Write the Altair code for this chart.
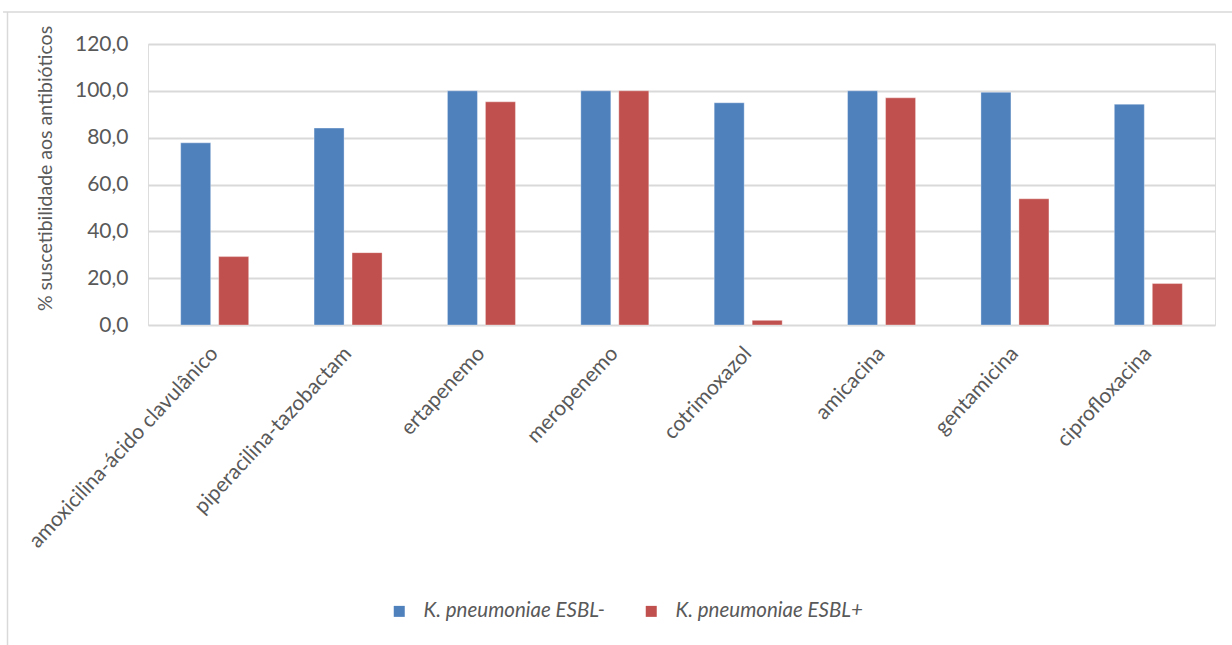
import altair as alt
import pandas as pd

antibiotics = [
    "amoxicilina-ácido clavulânico",
    "piperacilina-tazobactam",
    "ertapenemo",
    "meropenemo",
    "cotrimoxazol",
    "amicacina",
    "gentamicina",
    "ciprofloxacina",
]
series = ["K. pneumoniae ESBL-", "K. pneumoniae ESBL+"]
esbl_neg = [77.8, 84.1, 100.0, 100.0, 94.9, 100.0, 99.4, 94.3]
esbl_pos = [29.2, 30.9, 95.3, 100.0, 2.0, 97.0, 53.9, 17.7]
colors = ["#4F81BD", "#C0504D"]

rows = []
for i, name in enumerate(antibiotics):
    rows.append({"antibiotico": name, "grupo": series[0], "valor": esbl_neg[i]})
    rows.append({"antibiotico": name, "grupo": series[1], "valor": esbl_pos[i]})
df = pd.DataFrame(rows)

FONT = "Lato"
GREY = "#595959"
GRID = "#d9d9d9"

bars = alt.Chart(df).mark_bar(stroke="#ffffff", strokeOpacity=0.35, strokeWidth=1).encode(
    x=alt.X(
        "antibiotico:N",
        sort=antibiotics,
        scale=alt.Scale(paddingInner=0, paddingOuter=0),
        axis=alt.Axis(
            title=None,
            labelAngle=-47,
            labelAlign="right",
            labelBaseline="middle",
            labelPadding=25,
            labelFontSize=21,
            labelFont=FONT,
            labelColor=GREY,
            ticks=False,
            domain=False,
            grid=False,
            labelLimit=400,
        ),
    ),
    xOffset=alt.XOffset(
        "grupo:N",
        sort=series,
        scale=alt.Scale(paddingInner=0.21, paddingOuter=0.86),
    ),
    y=alt.Y(
        "valor:Q",
        scale=alt.Scale(domain=[0, 120], nice=False),
        axis=alt.Axis(
            title="% suscetibilidade aos antibióticos",
            titleFont=FONT,
            titleFontSize=19.5,
            titleFontWeight="normal",
            titleColor=GREY,
            titleAngle=-90,
            titleX=-103,
            titleY=124,
            titleAlign="center",
            titleBaseline="middle",
            values=[0, 20, 40, 60, 80, 100, 120],
            labelExpr="replace(format(datum.value, '.1f'), '.', ',')",
            labelFont=FONT,
            labelFontSize=21,
            labelColor=GREY,
            labelPadding=20,
            ticks=False,
            domain=False,
            gridColor=GRID,
            gridWidth=1.8,
        ),
    ),
    color=alt.Color(
        "grupo:N",
        sort=series,
        scale=alt.Scale(domain=series, range=colors),
        legend=alt.Legend(
            title=None,
            orient="none",
            direction="horizontal",
            legendX=241,
            legendY=557,
            symbolType="square",
            symbolSize=121,
            symbolStrokeWidth=0,
            labelFont=FONT,
            labelFontSize=20.5,
            labelFontStyle="italic",
            labelColor=GREY,
            columnPadding=36,
            labelOffset=14,
            labelLimit=400,
        ),
    ),
)

# thin frame around the chart area
frame_df = pd.DataFrame({"k": [0]})
top_line = alt.Chart(frame_df).mark_rule(color=GRID, strokeWidth=1.5).encode(
    x=alt.value(-145), x2=alt.value(1090), y=alt.value(-32)
)
left_line = alt.Chart(frame_df).mark_rule(color=GRID, strokeWidth=1.5).encode(
    x=alt.value(-140.5), y=alt.value(-32), y2=alt.value(610)
)

chart = alt.layer(bars, top_line, left_line).properties(
    width=1067,
    height=281,
    autosize=alt.AutoSizeParams(type="none"),
    padding={"left": 148, "top": 44, "right": 17, "bottom": 320},
).configure_view(stroke=None).configure(background="#ffffff")

chart.save("out.html", embed_options={"renderer": "svg", "actions": False})
